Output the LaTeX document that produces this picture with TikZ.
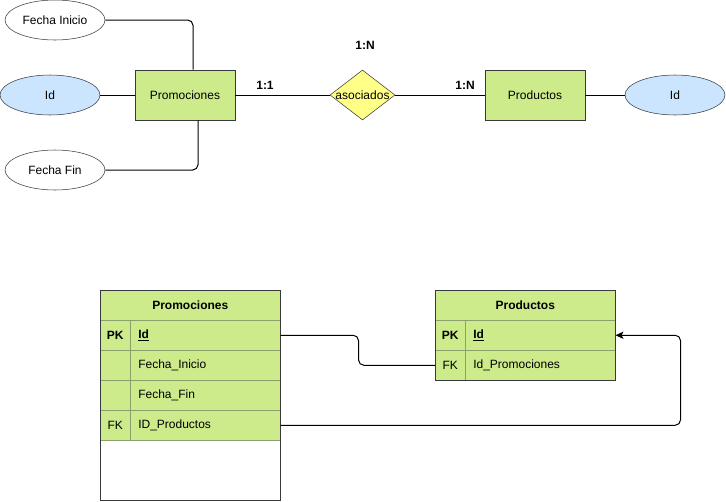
\documentclass[tikz,border=0pt]{standalone}
\usepackage{fontspec}
\setmainfont{Liberation Sans}
\usetikzlibrary{positioning}
\usetikzlibrary{shapes.geometric}
\usetikzlibrary{arrows.meta}
\definecolor{ergreen}{HTML}{CDEB8B}
\definecolor{erblue}{HTML}{CCE5FF}
\definecolor{eryellow}{HTML}{FFFF88}
\definecolor{erline}{HTML}{36393D}
\definecolor{rowline}{RGB}{140,160,110}
\tikzset{
  entity/.style={draw=erline, fill=ergreen, minimum width=75pt, minimum height=37.5pt, inner sep=0pt, text centered},
  attrib/.style={ellipse, draw=erline, minimum width=75pt, minimum height=30pt, inner sep=0pt},
  keyattrib/.style={attrib, fill=erblue},
  relation/.style={diamond, draw=erline, fill=eryellow, minimum width=48.75pt, minimum height=37.5pt, inner sep=0pt},
  card/.style={font=\fontsize{9}{11}\selectfont\bfseries},
  conn/.style={draw=black, line width=0.75pt, rounded corners=4pt},
  tblframe/.style={draw=erline, fill=white, minimum width=135pt, inner sep=0pt, anchor=north west},
  hdr/.style={draw=erline, fill=ergreen, font=\fontsize{9}{11}\selectfont\bfseries, minimum width=135pt, minimum height=22.5pt, inner sep=0pt, anchor=north west},
  keycell/.style={fill=ergreen, draw=rowline, minimum width=22.5pt, minimum height=22.5pt, inner sep=0pt, anchor=north west},
  fieldcell/.style={fill=ergreen, draw=rowline, minimum width=112.5pt, minimum height=22.5pt, text width=100.5pt, inner xsep=6pt, inner ysep=0pt, align=left, anchor=north west},
}

\begin{document}
\begin{tikzpicture}[x=0.75pt, y=-0.75pt, font=\fontsize{9}{11}\selectfont]
        \useasboundingbox (0,0) rectangle (726,501);

        % nodes %
        \node[attrib] (fini) at (55,20) {Fecha Inicio};
        \node[keyattrib] (pid) at (50,95) {Id};
        \node[attrib] (ffin) at (55,170) {Fecha Fin};
        \node[entity] (prom) at (185,95) {Promociones};
        \node[relation] (asoc) at (362.5,95) {\makebox[0pt]{asociados}};
        \node[entity] (prod) at (535,95) {Productos};
        \node[keyattrib] (did) at (675,95) {Id};

        \node[card] (c11) at (265,85) {1:1};
        \node[card] (c1n) at (465,85) {1:N};
        \node[card] (c1ntop) at (365,45) {1:N};

        % edges %
        \draw[conn] (fini.east) -| ([xshift=6pt]prom.north);
        \draw[conn] (ffin.east) -| ([xshift=9.75pt]prom.south);
        \draw[conn] (pid) -- (prom);
        \draw[conn] (prom) -- (asoc);
        \draw[conn] (asoc) -- (prod);
        \draw[conn] (prod) -- (did);

        % table Promociones %
        \node[tblframe, minimum height=157.5pt] (ptab) at (100,290) {};
        \node[hdr] (phd) at (100,290) {Promociones};
        \node[keycell, font=\fontsize{9}{11}\selectfont\bfseries] (pk1) at (100,320) {PK};
        \node[fieldcell] (pf1) at (130,320) {\underline{\textbf{Id}}};
        \node[keycell] (pk2) at (100,350) {};
        \node[fieldcell] (pf2) at (130,350) {Fecha\_Inicio};
        \node[keycell] (pk3) at (100,380) {};
        \node[fieldcell] (pf3) at (130,380) {Fecha\_Fin};
        \node[keycell] (pk4) at (100,410) {FK};
        \node[fieldcell] (pf4) at (130,410) {ID\_Productos};
        \draw[erline] (ptab.north west) rectangle (ptab.south east);

        % table Productos %
        \node[tblframe, minimum height=67.5pt] (dtab) at (435,290) {};
        \node[hdr] (dhd) at (435,290) {Productos};
        \node[keycell, font=\fontsize{9}{11}\selectfont\bfseries] (dk1) at (435,320) {PK};
        \node[fieldcell] (df1) at (465,320) {\underline{\textbf{Id}}};
        \node[keycell] (dk2) at (435,350) {FK};
        \node[fieldcell] (df2) at (465,350) {Id\_Promociones};
        \draw[erline] (dtab.north west) rectangle (dtab.south east);

        % relations %
        \draw[conn] (pf1.east) -- ++(78,0) |- (dk2.west);
        \draw[conn, -{Stealth[length=6pt, width=5.5pt, inset=1.5pt]}] (pf4.east) -- ++(400,0) |- (df1.east);
      \end{tikzpicture}
\end{document}
